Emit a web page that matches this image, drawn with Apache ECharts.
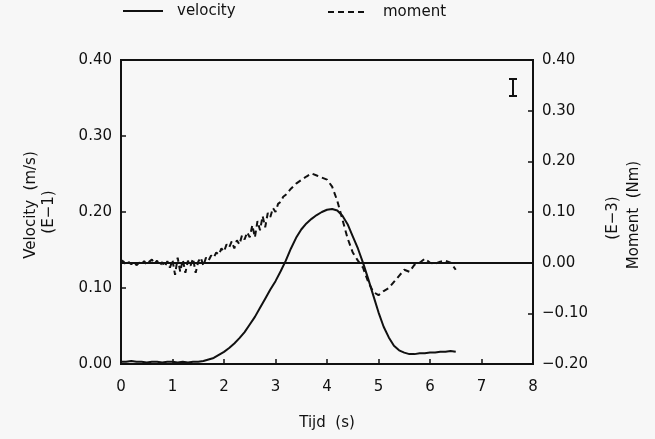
<!DOCTYPE html>
<html>
<head>
<meta charset="utf-8">
<script src="https://cdn.jsdelivr.net/npm/echarts@6/dist/echarts.min.js"></script>
<style>
html,body{margin:0;padding:0;background:#f7f7f7;}
#c{width:655px;height:439px;}
</style>
</head>
<body>
<div id="c"></div>
<script>
var xTicks = [0,1,2,3,4,5,6,7,8];
var velT = [0,0.1,0.2,0.3,0.4,0.5,0.6,0.7,0.8,0.9,1.0,1.1,1.2,1.3,1.4,1.5,1.6,1.7,1.8,1.9,2.0,2.1,2.2,2.3,2.4,2.5,2.6,2.7,2.8,2.9,3.0,3.1,3.2,3.3,3.4,3.5,3.6,3.7,3.8,3.9,4.0,4.1,4.2,4.3,4.4,4.5,4.6,4.7,4.8,4.9,5.0,5.1,5.2,5.3,5.4,5.5,5.6,5.7,5.8,5.9,6.0,6.1,6.2,6.3,6.4,6.5];
var velocity = [0.003,0.003,0.004,0.003,0.003,0.002,0.003,0.003,0.002,0.003,0.003,0.002,0.003,0.002,0.003,0.003,0.004,0.006,0.008,0.012,0.016,0.021,0.027,0.034,0.042,0.052,0.062,0.074,0.086,0.098,0.109,0.122,0.136,0.152,0.166,0.177,0.185,0.191,0.196,0.200,0.203,0.204,0.202,0.195,0.184,0.168,0.152,0.133,0.112,0.090,0.068,0.049,0.035,0.024,0.018,0.015,0.013,0.013,0.014,0.014,0.015,0.015,0.016,0.016,0.017,0.016];
var momT = [0,0.05,0.10,0.15,0.20,0.25,0.30,0.35,0.40,0.45,0.50,0.55,0.60,0.65,0.70,0.75,0.80,0.85,0.90,0.95,1.00,1.05,1.10,1.15,1.20,1.25,1.30,1.35,1.40,1.45,1.50,1.55,1.60,1.65,1.70,1.75,1.80,1.85,1.90,1.95,2.00,2.05,2.10,2.15,2.20,2.25,2.30,2.35,2.40,2.45,2.50,2.55,2.60,2.65,2.70,2.75,2.80,2.85,2.90,2.95,3.00,3.05,3.10,3.15,3.20,3.30,3.40,3.50,3.60,3.70,3.80,3.90,4.00,4.10,4.20,4.30,4.40,4.50,4.60,4.70,4.80,4.90,5.00,5.10,5.20,5.30,5.40,5.50,5.60,5.70,5.80,5.90,6.00,6.10,6.20,6.30,6.40,6.50];
var moment = [0.005,0.002,-0.004,0.001,-0.003,0.002,-0.005,0.000,-0.003,0.003,-0.004,0.002,0.006,-0.002,0.004,-0.006,0.001,-0.008,0.003,-0.010,0.005,-0.024,0.010,-0.018,0.006,-0.020,0.004,-0.006,0.008,-0.020,0.002,0.010,-0.006,0.010,0.004,0.014,0.010,0.020,0.016,0.028,0.022,0.036,0.030,0.042,0.028,0.044,0.036,0.054,0.046,0.060,0.050,0.074,0.050,0.082,0.064,0.092,0.070,0.098,0.090,0.108,0.100,0.116,0.120,0.130,0.134,0.146,0.156,0.163,0.170,0.176,0.172,0.168,0.164,0.150,0.122,0.085,0.048,0.020,0.004,-0.010,-0.038,-0.058,-0.064,-0.056,-0.050,-0.038,-0.026,-0.014,-0.018,-0.004,0.000,0.008,0.000,-0.002,0.002,0.004,0.000,-0.014];
var leftTicks = [0.00,0.10,0.20,0.30,0.40];
var rightTicks = [-0.20,-0.10,0.00,0.10,0.20,0.30,0.40];
var legendNames = ['velocity','moment'];

function zip(a,b){var r=[];for(var i=0;i<a.length;i++)r.push([a[i],b[i]]);return r;}
var FONT = 'DejaVu Sans';
var ink = '#111';
var chart = echarts.init(document.getElementById('c'));
var axisBase = {
  axisLine:{show:true,lineStyle:{color:ink,width:2}},
  axisTick:{show:true,inside:true,length:5,lineStyle:{color:ink,width:1.5}},
  splitLine:{show:false}
};
chart.setOption({
  backgroundColor:'#f7f7f7',
  animation:false,
  grid:{left:121,right:122,top:60,bottom:75,show:true,borderColor:ink,borderWidth:2,backgroundColor:'transparent'},
  xAxis:Object.assign({type:'value',min:xTicks[0],max:xTicks[xTicks.length-1],interval:1,
    axisLabel:{margin:16,fontSize:15,fontFamily:FONT,color:ink}},axisBase),
  yAxis:[
    Object.assign({type:'value',min:leftTicks[0],max:leftTicks[leftTicks.length-1],interval:0.1,position:'left',
      axisLabel:{margin:9,fontSize:15,fontFamily:FONT,color:ink,formatter:function(v){return v.toFixed(2);}}},axisBase),
    Object.assign({type:'value',min:rightTicks[0],max:rightTicks[rightTicks.length-1],interval:0.1,position:'right',
      axisLabel:{margin:9,fontSize:15,fontFamily:FONT,color:ink,formatter:function(v){return (v<0?'\u2212':'')+Math.abs(v).toFixed(2);}}},axisBase)
  ],
  series:[
    {name:legendNames[0],type:'line',yAxisIndex:0,data:zip(velT,velocity),showSymbol:false,symbol:'none',
     lineStyle:{color:ink,width:2},z:3},
    {name:legendNames[1],type:'line',yAxisIndex:1,data:zip(momT,moment),showSymbol:false,symbol:'none',
     lineStyle:{color:ink,width:2,type:[6,4]},z:3,
     markLine:{silent:true,symbol:'none',label:{show:false},lineStyle:{color:ink,width:2,type:'solid'},data:[{yAxis:0}]}}
  ],
  graphic:[
    {type:'line',shape:{x1:123,y1:11,x2:163,y2:11},style:{stroke:ink,lineWidth:2}},
    {type:'text',left:177,top:4,style:{text:legendNames[0],font:'15px '+FONT,fill:ink}},
    {type:'line',shape:{x1:328,y1:12,x2:368,y2:12},style:{stroke:ink,lineWidth:2,lineDash:[6,4]}},
    {type:'text',left:383,top:5,style:{text:legendNames[1],font:'15px '+FONT,fill:ink}},
    {type:'text',x:31,y:205,rotation:Math.PI/2,style:{text:'Velocity  (m/s)',font:'15px '+FONT,fill:ink,align:'center',verticalAlign:'middle'}},
    {type:'text',x:49,y:212,rotation:Math.PI/2,style:{text:'(E\u22121)',font:'15px '+FONT,fill:ink,align:'center',verticalAlign:'middle'}},
    {type:'text',x:613,y:218,rotation:Math.PI/2,style:{text:'(E\u22123)',font:'15px '+FONT,fill:ink,align:'center',verticalAlign:'middle'}},
    {type:'text',x:634,y:215,rotation:Math.PI/2,style:{text:'Moment  (Nm)',font:'15px '+FONT,fill:ink,align:'center',verticalAlign:'middle'}},
    {type:'text',x:327,y:423,style:{text:'Tijd  (s)',font:'15px '+FONT,fill:ink,align:'center',verticalAlign:'middle'}},
    {type:'line',shape:{x1:513,y1:79,x2:513,y2:96},style:{stroke:ink,lineWidth:2}},
    {type:'line',shape:{x1:509,y1:79,x2:517,y2:79},style:{stroke:ink,lineWidth:2}},
    {type:'line',shape:{x1:509,y1:96,x2:517,y2:96},style:{stroke:ink,lineWidth:2}}
  ]
});
</script>
</body>
</html>
